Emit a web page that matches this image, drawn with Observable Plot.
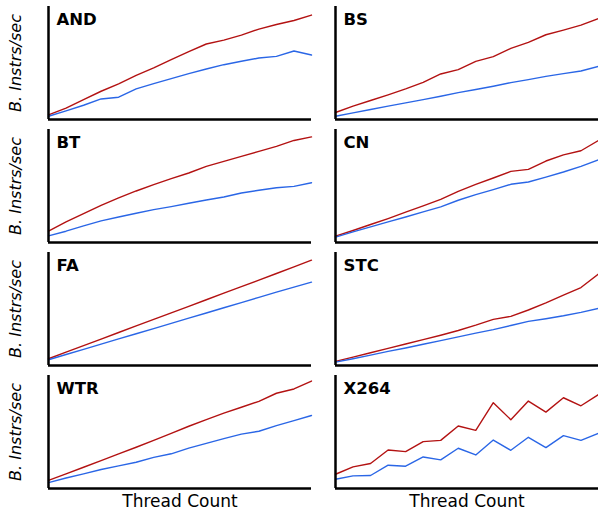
<!DOCTYPE html>
<html>
<head>
<meta charset="utf-8">
<script src="https://cdn.jsdelivr.net/npm/d3@7"></script>
<script src="https://cdn.jsdelivr.net/npm/@observablehq/plot@0.6"></script>
<style>
  html, body { margin: 0; padding: 0; background: #fff; }
  #chart { width: 598px; height: 516px; }
</style>
</head>
<body>
<div id="chart"></div>
<script>
// Thread counts (x axis, unlabeled in the reference)
const threads = [1, 2, 3, 4, 5, 6, 7, 8, 9, 10, 11, 12, 13, 14, 15, 16];

// Benchmarks laid out row by row, two per row
const benchmarks = ["AND", "BS", "BT", "CN", "FA", "STC", "WTR", "X264"];

// Throughput (relative units, 0-100 of each panel's height), red series
const redSeries = {
  AND:  [4.1, 10.0, 17.6, 25.0, 31.5, 39.1, 45.6, 52.9, 60.0, 66.8, 70.3, 74.7, 80.0, 84.1, 87.6, 92.4],
  BS:   [6.2, 11.8, 16.8, 21.8, 27.1, 32.9, 40.3, 44.1, 51.5, 55.6, 62.9, 68.2, 75.0, 79.1, 83.5, 89.4],
  BT:   [10.0, 18.2, 25.6, 32.9, 39.4, 45.6, 51.2, 56.5, 61.5, 67.4, 71.8, 76.2, 80.6, 85.0, 90.3, 93.5],
  CN:   [5.6, 10.6, 15.9, 21.2, 26.8, 32.4, 38.2, 45.3, 51.5, 57.1, 62.9, 64.7, 72.1, 77.6, 81.2, 90.3],
  FA:   [6.0, 11.8, 17.6, 23.4, 29.2, 35.0, 40.8, 46.6, 52.4, 58.2, 64.0, 69.8, 75.6, 81.4, 87.3, 93.2],
  STC:  [3.6, 7.4, 11.3, 15.2, 19.0, 22.9, 26.8, 31.0, 35.7, 40.8, 43.5, 49.1, 55.4, 62.2, 69.0, 81.0],
  WTR:  [7.2, 13.0, 18.8, 24.6, 30.7, 36.5, 42.6, 48.7, 55.1, 60.9, 66.7, 71.9, 77.1, 84.3, 88.1, 95.1],
  X264: [12.6, 19.1, 22.1, 34.1, 32.6, 41.5, 42.6, 55.3, 51.5, 75.9, 60.9, 77.4, 67.6, 80.3, 73.2, 83.2]
};

// Throughput (relative units), blue series
const blueSeries = {
  AND:  [2.9, 7.6, 12.6, 18.2, 19.7, 27.1, 31.8, 36.2, 40.6, 44.7, 48.5, 51.5, 54.4, 55.9, 60.6, 57.1],
  BS:   [2.9, 5.9, 8.8, 11.8, 14.7, 17.6, 20.6, 23.8, 26.5, 29.4, 32.6, 35.3, 38.2, 40.6, 42.9, 47.1],
  BT:   [5.9, 10.0, 14.7, 19.1, 22.6, 25.9, 29.1, 31.8, 34.7, 37.6, 40.3, 43.8, 46.2, 48.5, 49.7, 52.9],
  CN:   [4.7, 9.4, 13.8, 18.2, 22.6, 27.1, 31.5, 37.4, 42.4, 46.8, 51.5, 53.5, 57.9, 62.4, 67.4, 73.2],
  FA:   [5.1, 9.7, 14.3, 18.9, 23.5, 28.1, 32.7, 37.3, 41.9, 46.5, 51.1, 55.7, 60.3, 64.9, 69.3, 73.8],
  STC:  [3.0, 6.0, 9.2, 12.5, 15.5, 18.8, 22.0, 25.3, 28.6, 31.8, 35.4, 39.0, 41.4, 44.0, 47.0, 50.6],
  WTR:  [5.2, 9.3, 13.0, 16.8, 20.0, 23.2, 27.5, 30.7, 35.7, 40.0, 44.1, 48.1, 50.7, 55.7, 60.0, 64.6],
  X264: [8.2, 11.2, 11.5, 20.6, 19.7, 27.9, 25.3, 35.6, 29.7, 42.9, 33.8, 45.3, 36.2, 46.8, 42.6, 48.8]
};

const yLabel = "B. Instrs/sec";
const xLabel = "Thread Count";
const redColor = "#b31212";
const blueColor = "#2a66e6";

// Build tidy rows
const rows = [];
benchmarks.forEach((b, i) => {
  const col = i % 2, row = Math.floor(i / 2);
  threads.forEach((t, j) => {
    rows.push({bench: b, col, row, series: "red", t, v: redSeries[b][j]});
    rows.push({bench: b, col, row, series: "blue", t, v: blueSeries[b][j]});
  });
});
const panels = benchmarks.map((b, i) => ({bench: b, col: i % 2, row: Math.floor(i / 2)}));
const bottomPanels = panels.filter(p => p.row === 3);

const fontFamily = "DejaVu Sans, sans-serif";

const chart = Plot.plot({
  width: 598,
  height: 516,
  marginLeft: 48,
  marginRight: 0,
  marginTop: 4,
  marginBottom: 26,
  style: {fontFamily, background: "#fff", overflow: "visible"},
  fx: {axis: null, paddingInner: 0.084, paddingOuter: 0},
  fy: {axis: null, paddingInner: 0.0806, paddingOuter: 0},
  x: {domain: [1, 16], axis: null},
  y: {domain: [0, 100], axis: null},
  marks: [
    Plot.lineY(rows.filter(d => d.series === "red"), {
      x: "t", y: "v", fx: "col", fy: "row", z: "bench",
      stroke: redColor, strokeWidth: 1.4
    }),
    Plot.lineY(rows.filter(d => d.series === "blue"), {
      x: "t", y: "v", fx: "col", fy: "row", z: "bench",
      stroke: blueColor, strokeWidth: 1.4
    }),
    Plot.ruleX(panels, {x: () => 1, fx: "col", fy: "row", stroke: "#000", strokeWidth: 2.5}),
    Plot.ruleY(panels, {y: () => 0, fx: "col", fy: "row", stroke: "#000", strokeWidth: 2.5}),
    Plot.text(panels, {
      text: "bench", fx: "col", fy: "row", frameAnchor: "top-left",
      dx: 8, dy: 7, fontSize: 16.5, fontWeight: "bold", fill: "#000",
      textAnchor: "start", lineAnchor: "top"
    }),
    Plot.text(panels.filter(p => p.col === 0), {
      text: () => yLabel, fx: "col", fy: "row", frameAnchor: "left",
      textAnchor: "middle", lineAnchor: "middle",
      rotate: -90, dx: -33, fontSize: 16, fontStyle: "italic", fill: "#000"
    }),
    Plot.text(bottomPanels, {
      text: () => xLabel, fx: "col", fy: "row", frameAnchor: "bottom",
      dy: 18, fontSize: 17, fill: "#000"
    })
  ]
});
document.getElementById("chart").appendChild(chart);
</script>
</body>
</html>
